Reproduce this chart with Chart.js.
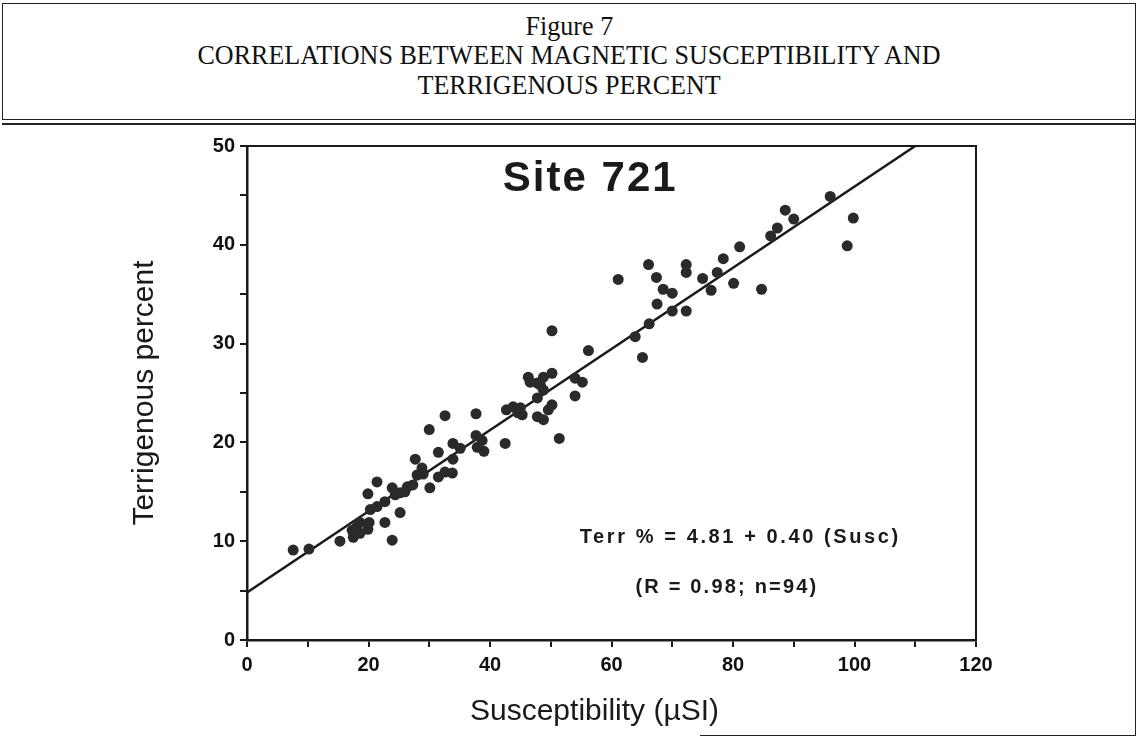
<!DOCTYPE html>
<html>
<head>
<meta charset="utf-8">
<script src="https://cdn.jsdelivr.net/npm/chart.js@4.4.1/dist/chart.umd.min.js"></script>
<style>
  html, body { margin: 0; padding: 0; background: #fff; }
  #page { position: relative; width: 1138px; height: 738px; overflow: hidden; }
  .frame { position: absolute; background: #222; }
  .hdr { position: absolute; left: 0; width: 1138px; text-align: center;
         font-family: "Liberation Serif", "Times New Roman", serif; font-size: 27px; color: #111; }
  .hdr span { display: inline-block; transform: scaleX(0.965); transform-origin: center; white-space: nowrap; }
  #wrap { position: absolute; left: 0; top: 125px; width: 1138px; height: 611px; }
</style>
</head>
<body>
<div id="page">
  <div class="frame" style="left:2px;top:3px;width:1134px;height:1px;"></div>
  <div class="frame" style="left:2px;top:3px;width:1px;height:117px;"></div>
  <div class="frame" style="left:1135px;top:3px;width:1px;height:733px;"></div>
  <div class="frame" style="left:2px;top:119px;width:1134px;height:1px;"></div>
  <div class="frame" style="left:2px;top:123px;width:1134px;height:2px;"></div>
  <div class="frame" style="left:700px;top:735px;width:436px;height:1px;"></div>
  <div class="hdr" style="top:11px;"><span>Figure 7</span></div>
  <div class="hdr" style="top:40px;"><span>CORRELATIONS BETWEEN MAGNETIC SUSCEPTIBILITY AND</span></div>
  <div class="hdr" style="top:70px;"><span>TERRIGENOUS PERCENT</span></div>
  <div id="wrap"><canvas id="myChart" width="1138" height="611"></canvas></div>
</div>
<script>
// susceptibility (µSI)
const susc = [
  7.6, 10.2, 15.3, 17.5, 17.3, 18.0, 18.6, 19.9, 20.1, 20.3,
  21.4, 19.9, 21.4, 22.7, 23.9, 22.7, 23.9, 25.2, 25.2, 26.4,
  27.3, 28.0, 29.0, 30.1, 31.5, 28.8, 27.7, 30.0, 31.5, 32.6,
  33.8, 32.6, 33.9, 33.9, 35.1, 37.7, 37.7, 38.7, 37.9, 39.0,
  42.5, 42.7, 43.8, 44.6, 45.3, 47.8, 48.8, 47.8, 48.8, 50.2,
  46.3, 46.6, 47.8, 48.8, 50.2, 50.2, 51.4, 54.0, 54.0, 55.2,
  56.2, 61.1, 63.9, 65.1, 66.2, 67.5, 66.1, 67.4, 68.5, 70.0,
  70.0, 72.3, 72.3, 72.3, 75.0, 76.4, 77.4, 78.4, 80.1, 81.1,
  84.7, 86.2, 87.3, 88.6, 90.0, 96.0, 99.8, 98.8, 26.0, 45.0,
  48.3, 18.6, 24.4, 49.6
];
// terrigenous percent for the same samples
const terr = [
  9.1, 9.2, 10.0, 10.4, 11.1, 11.4, 11.9, 11.2, 11.9, 13.2,
  13.5, 14.8, 16.0, 11.9, 10.1, 14.0, 15.4, 12.9, 14.9, 15.5,
  15.7, 16.7, 16.8, 15.4, 16.5, 17.4, 18.3, 21.3, 19.0, 17.0,
  16.9, 22.7, 19.9, 18.3, 19.4, 22.9, 20.7, 20.2, 19.5, 19.1,
  19.9, 23.3, 23.6, 23.0, 22.8, 22.6, 22.3, 24.5, 25.3, 23.8,
  26.6, 26.1, 26.0, 26.6, 27.0, 31.3, 20.4, 24.7, 26.5, 26.1,
  29.3, 36.5, 30.7, 28.6, 32.0, 34.0, 38.0, 36.7, 35.5, 35.1,
  33.3, 33.3, 38.0, 37.2, 36.6, 35.4, 37.2, 38.6, 36.1, 39.8,
  35.5, 40.9, 41.7, 43.5, 42.6, 44.9, 42.7, 39.9, 15.0, 23.5,
  25.8, 10.8, 14.7, 23.3
];
// regression line as drawn: from the intercept to where it leaves the top of the box
const fitX = [0, 110];
const fitY = [4.81, 50];

const xTicks = [0, 20, 40, 60, 80, 100, 120];
const yTicks = [0, 10, 20, 30, 40, 50];

const siteLabel = "Site 721";
const eqLabel = "Terr % = 4.81 + 0.40 (Susc)";
const statLabel = "(R = 0.98; n=94)";
const xTitle = "Susceptibility (µSI)";
const yTitle = "Terrigenous percent";

const points = susc.map((v, i) => ({ x: v, y: terr[i] }));
const fitLine = fitX.map((v, i) => ({ x: v, y: fitY[i] }));

const textPlugin = {
  id: "texts",
  afterDraw(chart) {
    const ctx = chart.ctx;
    const a = chart.chartArea;
    const xs = chart.scales.x, ys = chart.scales.y;
    ctx.save();
    // top and right edges of the plot box
    ctx.strokeStyle = "#1a1a1a";
    ctx.lineWidth = 2;
    ctx.beginPath();
    ctx.moveTo(a.left, a.top);
    ctx.lineTo(a.right, a.top);
    ctx.lineTo(a.right, a.bottom);
    ctx.stroke();

    ctx.fillStyle = "#1a1a1a";
    ctx.textAlign = "center";
    ctx.textBaseline = "middle";

    ctx.font = "bold 42px 'Liberation Sans', Arial, sans-serif";
    ctx.letterSpacing = "2px";
    ctx.fillText(siteLabel, xs.getPixelForValue(56.5), ys.getPixelForValue(46.6));

    ctx.font = "bold 20px 'Liberation Sans', Arial, sans-serif";
    ctx.letterSpacing = "2.6px";
    ctx.fillText(eqLabel, xs.getPixelForValue(81.2), ys.getPixelForValue(10.4));
    ctx.letterSpacing = "2.2px";
    ctx.fillText(statLabel, xs.getPixelForValue(79.0), ys.getPixelForValue(5.3));

    ctx.letterSpacing = "0px";
    ctx.font = "30px 'Liberation Sans', Arial, sans-serif";
    ctx.fillText(xTitle, xs.getPixelForValue(57.2), a.bottom + 72);

    ctx.translate(a.left - 102, (a.top + a.bottom) / 2);
    ctx.rotate(-Math.PI / 2);
    ctx.fillText(yTitle, 0, 0);
    ctx.restore();
  }
};

const tickFont = { family: "'Liberation Sans', Arial, sans-serif", size: 20, weight: "bold" };

new Chart(document.getElementById("myChart").getContext("2d"), {
  type: "scatter",
  data: {
    datasets: [
      {
        label: "Samples",
        data: points,
        pointRadius: 5.5,
        pointHoverRadius: 5.5,
        backgroundColor: "#2a2a2a",
        borderWidth: 0
      },
      {
        type: "line",
        label: "Fit",
        data: fitLine,
        borderColor: "#1a1a1a",
        borderWidth: 2.5,
        pointRadius: 0,
        fill: false
      }
    ]
  },
  options: {
    responsive: false,
    animation: false,
    events: [],
    layout: { padding: { left: 0, right: 162, top: 21, bottom: 0 } },
    plugins: { legend: { display: false }, tooltip: { enabled: false } },
    scales: {
      x: {
        type: "linear",
        min: 0,
        max: 120,
        afterFit: s => { s.height = 96; },
        ticks: {
          stepSize: 10,
          autoSkip: false,
          maxRotation: 0,
          padding: 6,
          color: "#111",
          font: tickFont,
          callback: v => xTicks.includes(v) ? v : ""
        },
        grid: { drawOnChartArea: false, tickLength: 7, color: "#1a1a1a", lineWidth: 2 },
        border: { color: "#1a1a1a", width: 2.5 }
      },
      y: {
        type: "linear",
        min: 0,
        max: 50,
        afterFit: s => { s.width = 247; },
        ticks: {
          stepSize: 5,
          autoSkip: false,
          padding: 5,
          color: "#111",
          font: tickFont,
          callback: v => yTicks.includes(v) ? v : ""
        },
        grid: { drawOnChartArea: false, tickLength: 7, color: "#1a1a1a", lineWidth: 2 },
        border: { color: "#1a1a1a", width: 2.5 }
      }
    }
  },
  plugins: [textPlugin]
});
</script>
</body>
</html>
